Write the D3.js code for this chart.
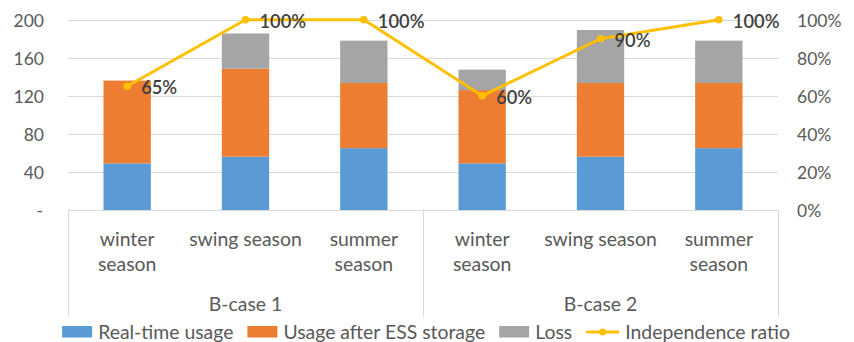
<!DOCTYPE html>
<html>
<head>
<meta charset="utf-8">
<script src="https://cdn.jsdelivr.net/npm/d3@7"></script>
<style>
  html, body { margin: 0; padding: 0; background: #fff; }
  svg { display: block; font-family: Lato, "Open Sans", sans-serif; }
</style>
</head>
<body>
<svg id="chart" width="854" height="342"></svg>
<script>
// Energy usage per season and case, with independence ratio
const groups = ["B-case 1", "B-case 2"];
const seasons = ["winter season", "swing season", "summer season"];
const realTime = [49, 56, 65, 49, 56, 65];
const afterESS = [87, 92.5, 68.5, 77, 77.5, 68.5];
const loss = [0, 37, 44.5, 21.5, 55.7, 44.5];
const ratio = [0.65, 1.0, 1.0, 0.60, 0.90, 1.0];
const leftTicks = [0, 40, 80, 120, 160, 200];
const rightTicks = [0, 0.2, 0.4, 0.6, 0.8, 1.0];
const seriesNames = ["Real-time usage", "Usage after ESS storage", "Loss", "Independence ratio"];
const colors = ["#5B9BD5", "#ED7D31", "#A5A5A5", "#FFC000"];

const svg = d3.select("#chart");
const plot = { left: 68, right: 778, top: 19.7, bottom: 210 };
const textColor = "#595959";
const tickSize = "17.5px";
const labelSize = "19.4px";

const cats = d3.range(groups.length * seasons.length);
const x = d3.scaleBand().domain(cats).range([plot.left, plot.right])
  .paddingInner(0.6).paddingOuter(0.3);
const y = d3.scaleLinear().domain([0, 200]).range([plot.bottom, plot.top]);
const y2 = d3.scaleLinear().domain([0, 1]).range([plot.bottom, plot.top]);
const step = x.step();
const center = i => x(i) + x.bandwidth() / 2;

// gridlines
svg.append("g").selectAll("line").data(leftTicks.filter(d => d > 0)).join("line")
  .attr("x1", plot.left).attr("x2", plot.right)
  .attr("y1", d => Math.round(y(d)) + 0.5).attr("y2", d => Math.round(y(d)) + 0.5)
  .attr("stroke", "#D9D9D9").attr("stroke-width", 1);

// stacked bars
const rows = cats.map(i => ({ i, realTime: realTime[i], afterESS: afterESS[i], loss: loss[i] }));
const stack = d3.stack().keys(["realTime", "afterESS", "loss"])(rows);
svg.append("g").selectAll("g").data(stack).join("g")
  .attr("fill", (d, k) => colors[k])
  .selectAll("rect").data(d => d).join("rect")
  .attr("x", d => x(d.data.i))
  .attr("width", x.bandwidth())
  .attr("y", d => y(d[1]))
  .attr("height", d => y(d[0]) - y(d[1]));

// category axis frame
const axisColor = "#D9D9D9";
const frame = svg.append("g").attr("stroke", axisColor).attr("stroke-width", 1);
frame.append("line").attr("x1", plot.left).attr("x2", plot.right)
  .attr("y1", plot.bottom + 0.5).attr("y2", plot.bottom + 0.5);
const seps = [plot.left, x.range()[0] + step * seasons.length, plot.right];
frame.selectAll(".sep").data(seps).join("line")
  .attr("x1", d => Math.round(d) + 0.5).attr("x2", d => Math.round(d) + 0.5)
  .attr("y1", plot.bottom).attr("y2", 317);

// left axis
const leftAxis = d3.axisLeft(y).tickValues(leftTicks).tickSize(0).tickPadding(0)
  .tickFormat(d => d === 0 ? "-" : d3.format("d")(d));
const gl = svg.append("g").attr("transform", `translate(${44},0)`).call(leftAxis);
gl.select(".domain").remove();
gl.selectAll("text").attr("fill", textColor).style("font-size", tickSize)
  .style("font-family", "Lato, sans-serif").attr("dy", "0.36em");
gl.selectAll(".tick").filter(d => d === 0).select("text").attr("x", -1);

// right axis
const rightAxis = d3.axisRight(y2).tickValues(rightTicks).tickSize(0).tickPadding(0)
  .tickFormat(d3.format(".0%"));
const gr = svg.append("g").attr("transform", `translate(${797},0)`).call(rightAxis);
gr.select(".domain").remove();
gr.selectAll("text").attr("fill", textColor).style("font-size", tickSize)
  .style("font-family", "Lato, sans-serif").attr("dy", "0.36em");

// ratio line with markers and value labels
const line = d3.line().x((d, i) => center(i)).y(d => y2(d));
svg.append("path").datum(ratio).attr("d", line)
  .attr("fill", "none").attr("stroke", colors[3]).attr("stroke-width", 3)
  .attr("stroke-linejoin", "round");
svg.append("g").selectAll("circle").data(ratio).join("circle")
  .attr("cx", (d, i) => center(i)).attr("cy", d => y2(d)).attr("r", 3.8)
  .attr("fill", colors[3]);
svg.append("g").selectAll("text").data(ratio).join("text")
  .attr("x", (d, i) => center(i) + 14).attr("y", d => y2(d) + 1.5)
  .attr("dy", "0.36em")
  .attr("fill", "#404040").style("font-size", "18.3px").style("font-weight", "600")
  .text(d => d3.format(".0%")(d));

// season labels, wrapped onto two lines when wider than the slot
const catG = svg.append("g").attr("fill", textColor).style("font-size", labelSize);
cats.forEach(i => {
  const name = seasons[i % seasons.length];
  const t = catG.append("text").attr("x", center(i)).attr("y", 239.3)
    .attr("text-anchor", "middle").attr("dy", "0.36em");
  t.text(name);
  if (t.node().getComputedTextLength() > 116) {
    t.text(null);
    name.split(" ").forEach((w, k) => {
      t.append("tspan").attr("x", center(i)).attr("y", 239.3 + k * 25).attr("dy", "0.36em").text(w);
    });
  }
});

// group labels
svg.append("g").selectAll("text").data(groups).join("text")
  .attr("x", (d, g) => (seps[g] + seps[g + 1]) / 2).attr("y", 304.3).attr("dy", "0.36em")
  .attr("text-anchor", "middle").attr("fill", textColor).style("font-size", labelSize)
  .text(d => d);

// legend
const leg = svg.append("g");
let lx = 0;
const ly = 332;
seriesNames.forEach((name, k) => {
  const item = leg.append("g").attr("transform", `translate(${lx},0)`);
  if (k < 3) {
    item.append("rect").attr("x", 0).attr("y", ly - 6).attr("width", 30).attr("height", 11.5)
      .attr("fill", colors[k]);
  } else {
    item.append("line").attr("x1", 0).attr("x2", 33).attr("y1", ly).attr("y2", ly)
      .attr("stroke", colors[k]).attr("stroke-width", 3);
    item.append("circle").attr("cx", 16.5).attr("cy", ly).attr("r", 3.5).attr("fill", colors[k]);
  }
  const sw = k < 3 ? 30 : 33;
  const txt = item.append("text").attr("x", sw + 6).attr("y", ly).attr("dy", "0.36em")
    .attr("fill", textColor).style("font-size", labelSize).text(name);
  lx += sw + 6 + txt.node().getComputedTextLength() + 14;
});
const legW = lx - 14;
leg.attr("transform", `translate(${(61 + 791) / 2 - legW / 2},0)`);
</script>
</body>
</html>
